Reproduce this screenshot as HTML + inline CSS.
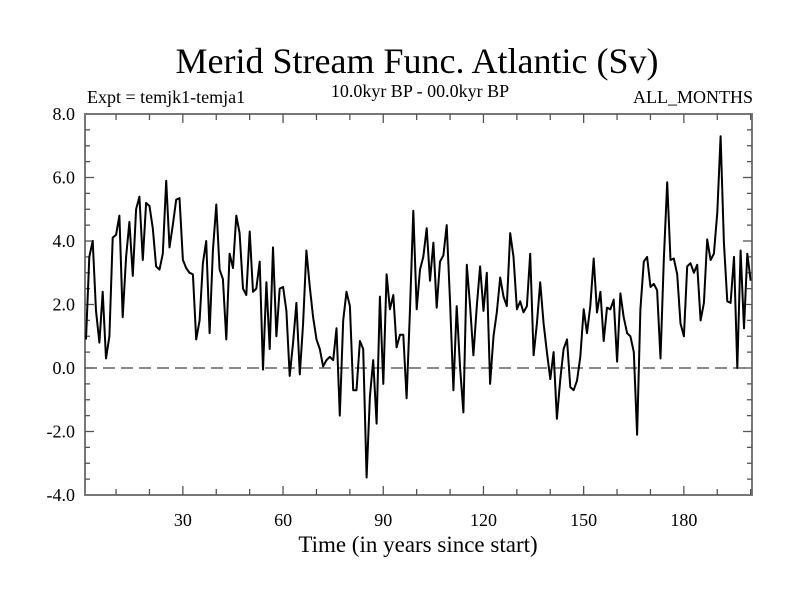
<!DOCTYPE html>
<html><head><meta charset="utf-8"><style>
body{margin:0;background:#fff}
svg text{font-family:"Liberation Serif",serif;fill:#000}
</style></head><body>
<svg id="c" width="800" height="600" viewBox="0 0 800 600">
<text x="417" y="73" font-size="36" text-anchor="middle">Merid Stream Func. Atlantic (Sv)</text>
<text x="87" y="103" font-size="18">Expt = temjk1-temja1</text>
<text x="420" y="97" font-size="18" text-anchor="middle">10.0kyr BP - 00.0kyr BP</text>
<text x="753" y="103" font-size="18" text-anchor="end">ALL_MONTHS</text>
<text x="418" y="552" font-size="23" text-anchor="middle">Time (in years since start)</text>
<g id="g"></g>
</svg>
<script>
const values=[0.9,3.5,4.0,1.8,0.8,2.4,0.3,1.0,4.1,4.2,4.8,1.6,3.5,4.6,2.9,5.0,5.4,3.4,5.2,5.1,4.4,3.2,3.1,3.6,5.9,3.8,4.5,5.3,5.35,3.4,3.15,3.0,2.95,0.9,1.5,3.3,4.0,1.1,3.7,5.15,3.1,2.8,0.9,3.6,3.15,4.8,4.25,2.5,2.3,4.3,2.4,2.5,3.35,-0.05,2.7,0.6,3.8,1.0,2.5,2.55,1.8,-0.25,0.8,2.05,-0.2,1.4,3.7,2.55,
1.6,0.9,0.6,0.05,0.25,0.35,0.25,1.25,-1.5,1.5,2.4,1.95,-0.7,-0.7,0.85,0.6,-3.45,-0.9,0.25,-1.75,2.25,-0.5,2.95,1.85,2.3,0.65,1.05,1.05,-0.95,1.85,4.95,1.85,3.1,3.5,4.4,2.75,3.95,1.9,3.35,3.55,4.5,2.05,-0.7,1.95,0,-1.4,3.25,1.95,0.4,1.95,3.2,1.8,3.0,-0.5,1.0,1.75,2.85,2.25,1.95,4.25,3.5,1.85,2.1,1.75,1.95,3.6,
0.4,1.4,2.7,1.4,0.5,-0.35,0.5,-1.6,-0.35,0.6,0.9,-0.6,-0.7,-0.4,0.35,1.85,1.1,1.95,3.45,1.75,2.4,0.85,1.9,1.85,2.15,0.2,2.35,1.6,1.1,1.0,0.5,-2.1,1.85,3.35,3.5,2.55,2.65,2.45,0.3,3.4,5.85,3.4,3.45,2.95,1.4,1.0,3.2,3.3,3.0,3.25,1.5,2.05,4.05,3.4,3.6,4.9,7.3,3.95,2.1,2.05,3.5,0.0,3.7,1.25,3.6,2.75];
const xTicks=[30,60,90,120,150,180];
const yTicks=[-4,-2,0,2,4,6,8];
const yLabels=["-4.0","-2.0","0.0","2.0","4.0","6.0","8.0"];
const L=85,R=752,T=114,B=495,X0=0.7,X1=200.4,Y0=-4,Y1=8;
const sx=t=>L+(t-X0)*(R-L)/(X1-X0);
const sy=v=>B-(v-Y0)*(B-T)/(Y1-Y0);
const g=document.getElementById('g');
const NS='http://www.w3.org/2000/svg';
function mk(tag,attrs){const e=document.createElementNS(NS,tag);for(const k in attrs)e.setAttribute(k,attrs[k]);g.appendChild(e);return e;}
let f=mk('rect',{x:L,y:T,width:R-L,height:B-T,fill:'none',stroke:'#777','stroke-width':2});


let z=mk('line',{x1:L,x2:R,y1:sy(0),y2:sy(0),stroke:'#444','stroke-width':1.3,'stroke-dasharray':'12,6'});


for(let t=10;t<X1;t+=10){const big=t%30===0;const len=big?9:6;
 let a=mk('line',{x1:sx(t),x2:sx(t),y1:B,y2:B-len,stroke:'#555','stroke-width':1.3});
 
 
 let b=mk('line',{x1:sx(t),x2:sx(t),y1:T,y2:T+len,stroke:'#555','stroke-width':1.3});
 
 }
for(let v=-3.5;v<8;v+=0.5){const big=Math.abs(v%2)<1e-9;const len=big?9:5;
 let a=mk('line',{x1:L,x2:L+len,y1:sy(v),y2:sy(v),stroke:'#555','stroke-width':1.3});
 
 
 let b=mk('line',{x1:R,x2:R-len,y1:sy(v),y2:sy(v),stroke:'#555','stroke-width':1.3});
 
 }
xTicks.forEach(t=>{let e=mk('text',{x:sx(t),y:526,'font-size':18,'text-anchor':'middle'});e.textContent=t;
 
 });
yTicks.forEach((v,i)=>{let e=mk('text',{x:75,y:sy(v)+6,'font-size':18,'text-anchor':'end'});e.textContent=yLabels[i];
 
 });
let d=values.map((v,i)=>(i?'L':'M')+sx(i+1).toFixed(1)+','+sy(v).toFixed(1)).join('');
let p=mk('path',{d:d,fill:'none',stroke:'#000','stroke-width':2,'stroke-linejoin':'round'});


</script>
</body></html>
